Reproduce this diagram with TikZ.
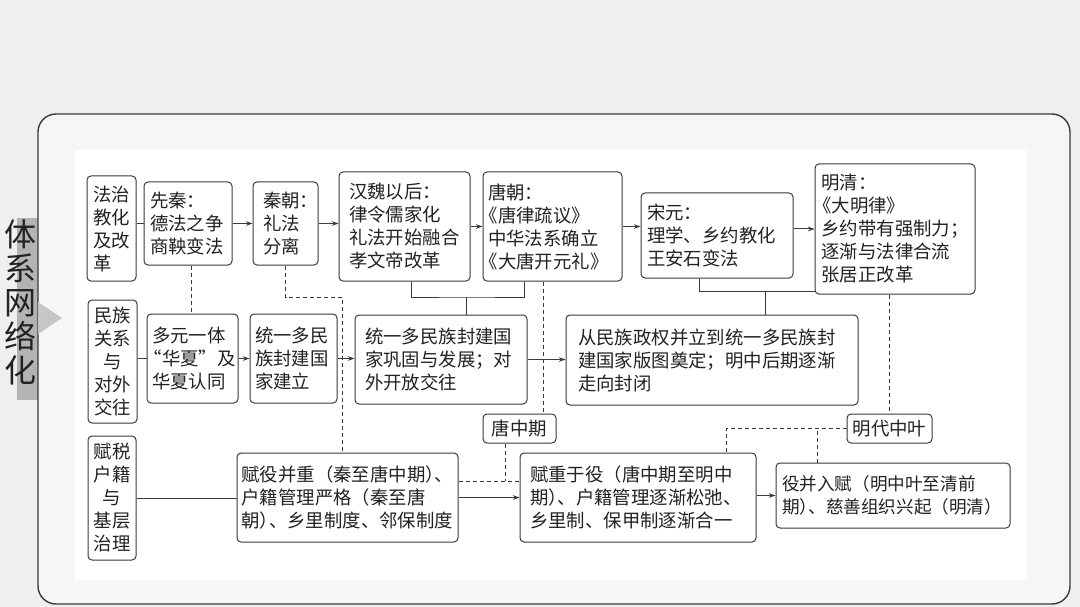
\documentclass[tikz,border=0pt]{standalone}
\usepackage{fontspec}
\newfontfamily\cjk{Noto Sans CJK SC}
\usetikzlibrary{arrows.meta}
\definecolor{linec}{HTML}{3A3A3A}
\definecolor{txt}{HTML}{222222}
\definecolor{pagebg}{HTML}{EFEFEF}
\definecolor{framebg}{HTML}{F6F6F6}
\definecolor{tabgray}{HTML}{B3B3B3}
\definecolor{tabtri}{HTML}{C6C6C6}
\newcommand\pkrn{\kern-.5em}
\newcommand\lkrn{\leavevmode\kern-.45em}
\begin{document}
\begin{tikzpicture}[x=1pt,y=-1pt,
  bx/.style n args={3}{draw=linec, line width=1pt, rounded corners=4pt,
    minimum width=#1, minimum height=#2, text width=#3, align=left,
    inner xsep=0pt, inner ysep=0pt, font=\cjk\fontsize{18.4}{23}\selectfont, text=txt},
  bc/.style n args={3}{bx={#1}{#2}{#3}, align=center},
  ln/.style={draw=linec, line width=1pt},
  arr/.style={-{Stealth[length=6.5pt,width=4.5pt]}},
  dsh/.style={draw=linec, line width=0.9pt, dash pattern=on 4pt off 3pt}]
\useasboundingbox (0,0) rectangle (1080,607);
% background
\fill[pagebg] (0,0) rectangle (1080,607);
\fill[tabgray] (17,218) rectangle (38,400);
\filldraw[framebg, draw=linec, line width=1.4pt, rounded corners=18pt] (38,114) rectangle (1070,604);
\fill[tabtri] (38,302) -- (62,318) -- (38,334) -- cycle;
\fill[white] (75,150) rectangle (1027,580);
\node[font=\cjk\fontsize{32}{34}\selectfont, text=txt, align=center, inner sep=0pt] (title) at (21,302) {体\\系\\网\\络\\化};
% row 1
\node[bx={49pt}{105pt}{37pt}] (fa) at (111.5,228.5) {法治\\教化\\及改\\革};
\node[bx={88pt}{83pt}{76pt}] (xq) at (188,223.5) {先秦：\\德法之争\\商鞅变法};
\node[bx={65pt}{83pt}{45pt}] (qc) at (285.5,223.5) {秦朝：\\礼法\\分离};
\node[bx={131pt}{109pt}{111pt}] (hw) at (404.5,226.5) {汉魏以后：\\律令儒家化\\礼法开始融合\\孝文帝改革};
\node[bx={139pt}{109pt}{129pt}] (tc) at (552.5,226.5) {唐朝：\\\lkrn《唐律疏议》\\中华法系确立\\\lkrn《大唐开元礼》};
\node[bx={152pt}{85pt}{140pt}] (sy) at (717,235.5) {宋元：\\理学、乡约教化\\王安石变法};
\node[bx={160pt}{130pt}{147pt}] (mq) at (895,229) {明清：\\\lkrn《大明律》\\乡约带有强制力；\\逐渐与法律合流\\张居正改革};
% row 2
\node[bc={49pt}{123pt}{37pt}] (mz) at (112.5,361.5) {民族\\关系\\与\\对外\\交往};
\node[bx={91pt}{89pt}{81pt}] (dy) at (192.5,358.5) {多元一体\\\lkrn“华夏”及\\华夏认同};
\node[bx={87pt}{89pt}{77pt}] (tj) at (293.5,358.5) {统一多民\\族封建国\\家建立};
\node[bx={172pt}{89pt}{152pt}] (gg) at (441,359.5) {统一多民族封建国\\家巩固与发展；对\\外开放交往};
\node[bx={292pt}{90pt}{268pt}] (cm) at (712,360) {从民族政权并立到统一多民族封\\建国家版图奠定；明中后期逐渐\\走向封闭};
% row 3
\node[bc={73pt}{29pt}{60pt}] (tzq) at (519.5,428.5) {唐中期};
\node[bc={85pt}{29pt}{75pt}] (mdzy) at (889.5,428.5) {明代中叶};
\node[bc={48pt}{124pt}{37pt}] (fs) at (112,498) {赋税\\户籍\\与\\基层\\治理};
\node[bx={221pt}{89pt}{212pt}] (fybz) at (347.5,497.5) {赋役并重（秦至唐中期）\pkrn、\\户籍管理严格（秦至唐\\朝）\pkrn、乡里制度、邻保制度};
\node[bx={236pt}{89pt}{216pt}] (fzyy) at (638,497.5) {赋重于役（唐中期至明中\\期）\pkrn、户籍管理逐渐松弛、\\乡里制、保甲制逐渐合一};
\node[bx={234pt}{65pt}{222pt}, font=\cjk\fontsize{17.6}{23}\selectfont] (yb) at (893,495.5) {役并入赋（明中叶至清前\\期）\pkrn、慈善组织兴起（明清）};
% row 1 connectors
\draw[ln] (xq.west -| fa.east) -- (xq.west);
\draw[ln,arr] (xq.east) -- (qc.west);
\draw[ln,arr] (qc.east) -- (qc.east -| hw.west);
\draw[ln,arr] (hw.east) -- (tc.west);
\draw[ln,arr] (tc.east) -- (tc.east -| sy.west);
\coordinate (sye) at ([yshift=6.5pt]sy.east);
\draw[ln,arr] (sye) -- (sye -| mq.west);
% brackets
\coordinate (j1) at (466,297);
\coordinate (hwb) at ([xshift=6.5pt]hw.south);
\coordinate (tcb) at ([xshift=-28.5pt]tc.south);
\draw[ln] (hwb) |- (j1) -| (tcb);
\draw[ln] (j1) -- (j1 |- gg.north);
\coordinate (j2) at (765,291);
\coordinate (syb) at ([xshift=-18pt]sy.south);
\draw[ln] (syb) |- (j2 -| mq.west);
\draw[ln] (j2) -- (j2 |- cm.north);
% row 2 connectors
\draw[ln] (mz.east |- dy.west) -- (dy.west);
\draw[ln,arr] (dy.east) -- (tj.west);
\draw[ln,arr] (tj.east) -- (tj.east -| gg.west);
\draw[ln,arr] (gg.east) -- (gg.east -| cm.west);
% dashed
\coordinate (xqb) at ([xshift=3pt]xq.south);
\draw[dsh] (xqb) -- (xqb |- dy.north);
\coordinate (d1) at (342,297);
\draw[dsh] (qc.south) |- (d1) -- (d1 |- fybz.north);
\coordinate (tcd) at ([xshift=-9.5pt]tc.south);
\draw[dsh] (tcd) -- (tcd |- tzq.north);
\coordinate (d2) at (505,481);
\draw[dsh] (d2 -| fybz.east) -- (d2 -| fzyy.west);
\draw[dsh] (d2 |- tzq.south) -- (d2);
\draw[dsh] (mdzy.north |- mq.south) -- (mdzy.north);
\coordinate (fzt) at ([xshift=88pt]fzyy.north);
\draw[dsh] (mdzy.west) -| (fzt);
\coordinate (ybt) at ([xshift=-76pt]yb.north);
\draw[dsh] (ybt) -- (ybt |- mdzy.west);
% row 3 connectors
\draw[ln] (fs.east) -- (fs.east -| fybz.west);
\draw[ln,arr] (fybz.east) -- (fybz.east -| fzyy.west);
\draw[ln,arr] (fzyy.east |- yb.west) -- (yb.west);
\end{tikzpicture}
\end{document}
